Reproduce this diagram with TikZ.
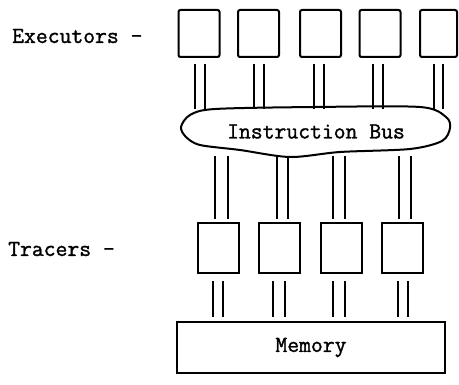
\documentclass[tikz,border=0pt]{standalone}
\usepackage{fontspec}
\newfontfamily\typer[BoldFont={Latin Modern Mono},BoldFeatures={FakeBold=1.3}]{Latin Modern Mono}
\usetikzlibrary{calc}
\begin{document}
\begin{tikzpicture}[x=1pt,y=-1pt,
  unit/.style={draw,line width=2pt,minimum width=41pt,inner sep=0pt},
  exec/.style={unit,minimum height=47pt,rounded corners=2pt},
  tracer/.style={unit,minimum height=50pt},
  link/.style={line width=2pt},
  lbl/.style={font=\typer\bfseries\fontsize{23}{26}\selectfont,inner sep=0pt}]
\useasboundingbox (0,0) rectangle (459,385);

% executors
\node[exec] (e1) at (199,33.5) {};
\node[exec] (e2) at (258.5,33.5) {};
\node[exec] (e3) at (320.5,33.5) {};
\node[exec] (e4) at (380,33.5) {};
\node[exec,minimum width=37pt] (e5) at (438.5,33.5) {};

% instruction bus
\node[lbl,minimum width=269pt,minimum height=49pt] (bus) at (316,131.5) {Instruction Bus};
\draw[line width=2pt] plot[smooth cycle,tension=0.5] coordinates {
  (181,127) (190,115) (215,109) (315,107) (420,107)
  (446,117) (450,128) (442,141) (410,149) (340,152) (290,157)
  (240,150) (200,145) (186,137)};

% tracers
\node[tracer] (t1) at (218,248) {};
\node[tracer] (t2) at (279,248) {};
\node[tracer] (t3) at (341,248) {};
\node[tracer] (t4) at (402.5,248) {};

% memory
\node[lbl,draw,line width=2pt,minimum width=268pt,minimum height=51pt] (mem) at (311,347.5) {Memory};

% side labels
\node[lbl,anchor=west] (lexec) at (12,36) {Executors -};
\node[lbl,anchor=west] (ltrac) at (8,249) {Tracers -};

% executor <-> bus links
\foreach \n/\a/\b in {1/-4/6, 2/-5/5, 3/-7/3, 4/-7/3, 5/-5/4} {
  \draw[link] ($(e\n.south)+(\a,6)$) -- ($(e\n.south |- bus.north)+(\a,2)$);
  \draw[link] ($(e\n.south)+(\b,6)$) -- ($(e\n.south |- bus.north)+(\b,2)$);
}

% bus <-> tracer links
\foreach \n/\a/\b in {1/-3/10, 2/-2/9, 3/-8/4, 4/-4/8} {
  \draw[link] ($(t\n.north |- bus.south)+(\a,0)$) -- ($(t\n.north)+(\a,-3)$);
  \draw[link] ($(t\n.north |- bus.south)+(\b,0)$) -- ($(t\n.north)+(\b,-3)$);
}

% tracer <-> memory links
\foreach \n/\a/\b in {1/-5/5, 2/-6/6, 3/-8/4, 4/-5/5.5} {
  \draw[link] ($(t\n.south)+(\a,7)$) -- ($(mem.north -| t\n.south)+(\a,-4)$);
  \draw[link] ($(t\n.south)+(\b,7)$) -- ($(mem.north -| t\n.south)+(\b,-4)$);
}
\end{tikzpicture}
\end{document}
